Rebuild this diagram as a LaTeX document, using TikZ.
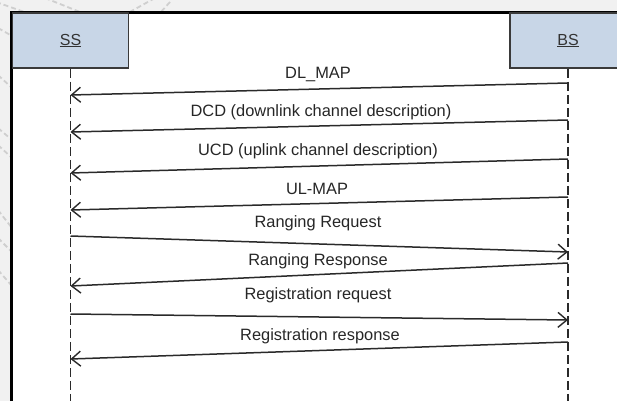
\documentclass[tikz,border=0pt]{standalone}
\usepackage{fontspec}
\setmainfont{Liberation Sans}
\usetikzlibrary{arrows.meta}
\definecolor{boxfill}{HTML}{C8D6E7}
\definecolor{boxline}{HTML}{3A3A3A}
\definecolor{msgline}{HTML}{2A2A2A}
\definecolor{marginbg}{HTML}{F1F1F1}
\definecolor{marginmark}{HTML}{CFCFCF}

\begin{document}
\begin{tikzpicture}[x=1pt,y=-1pt,
  actor/.style={draw=boxline, fill=boxfill, line width=1.5pt,
    minimum width=116pt, minimum height=55pt, inner sep=0pt,
    font=\fontsize{16}{19}\selectfont, text=black!80},
  lifeline/.style={draw=msgline, line width=1.7pt, dash pattern=on 9pt off 4pt},
  msg/.style={draw=msgline, line width=1.5pt,
    -{Straight Barb[length=9pt,width=15pt,line width=1.4pt]}},
  lbl/.style={font=\fontsize{16.4}{19}\selectfont, inner sep=0pt, text=black!85, anchor=base},
  hatchmark/.style={draw=marginmark, line width=1.8pt, dash pattern=on 5pt off 3pt}]

\useasboundingbox (0,0) rectangle (617,401);
\clip (0,0) rectangle (617,401);

% page margin around the frame
\fill[marginbg] (0,0) rectangle (617,12.5);
\fill[marginbg] (0,0) rectangle (11.5,401);
\draw[hatchmark] (-4,2) -- (30,14);
\draw[hatchmark] (45,-2) -- (80,12);
\draw[hatchmark] (155,-2) -- (128,13);
\draw[hatchmark] (170,2) -- (160,13);
\draw[hatchmark] (-2,28) -- (12,36);
\draw[hatchmark] (-2,75) -- (12,88);
\draw[hatchmark] (-2,128) -- (12,140);
\draw[hatchmark] (-2,145) -- (12,158);
\draw[hatchmark] (-2,210) -- (12,228);
\draw[hatchmark] (-2,238) -- (12,252);
\draw[hatchmark] (-2,270) -- (12,286);

% frame
\draw[black, line width=2.4pt] (11.5,401) -- (11.5,12.5) -- (617,12.5);

% actors
\node[actor] (ss) at (70.5,40.5) {\underline{SS}};
\node[actor] (bs) at (568,40.5) {\underline{BS}};

% lifelines
\coordinate (ssend) at (70.5,401);
\coordinate (bsend) at (568,401);
\draw[lifeline] (ss.south) -- (ssend);
\draw[lifeline] (bs.south) -- (bsend);

% message end points
\coordinate (b1) at (568,83);   \coordinate (s1) at (70.5,95);
\coordinate (b2) at (568,120);  \coordinate (s2) at (70.5,132);
\coordinate (b3) at (568,159);  \coordinate (s3) at (70.5,173);
\coordinate (b4) at (568,197);  \coordinate (s4) at (70.5,210);
\coordinate (s5) at (70.5,236); \coordinate (b5) at (568,252);
\coordinate (b6) at (568,263);  \coordinate (s6) at (70.5,286);
\coordinate (s7) at (70.5,314); \coordinate (b7) at (568,320);
\coordinate (b8) at (568,342);  \coordinate (s8) at (70.5,359);

% messages
\draw[msg] (b1) -- (s1);
\draw[msg] (b2) -- (s2);
\draw[msg] (b3) -- (s3);
\draw[msg] (b4) -- (s4);
\draw[msg] (s5) -- (b5);
\draw[msg] (b6) -- (s6);
\draw[msg] (s7) -- (b7);
\draw[msg] (b8) -- (s8);

% message labels (placed by baseline)
\node[lbl] (l1) at (318,79)  {DL\_MAP};
\node[lbl] (l2) at (321,116) {DCD (downlink channel description)};
\node[lbl] (l3) at (318,155) {UCD (uplink channel description)};
\node[lbl] (l4) at (317,194) {UL-MAP};
\node[lbl] (l5) at (318,227) {Ranging Request};
\node[lbl] (l6) at (318,265) {Ranging Response};
\node[lbl] (l7) at (318,299) {Registration request};
\node[lbl] (l8) at (320,340) {Registration response};
\end{tikzpicture}
\end{document}
